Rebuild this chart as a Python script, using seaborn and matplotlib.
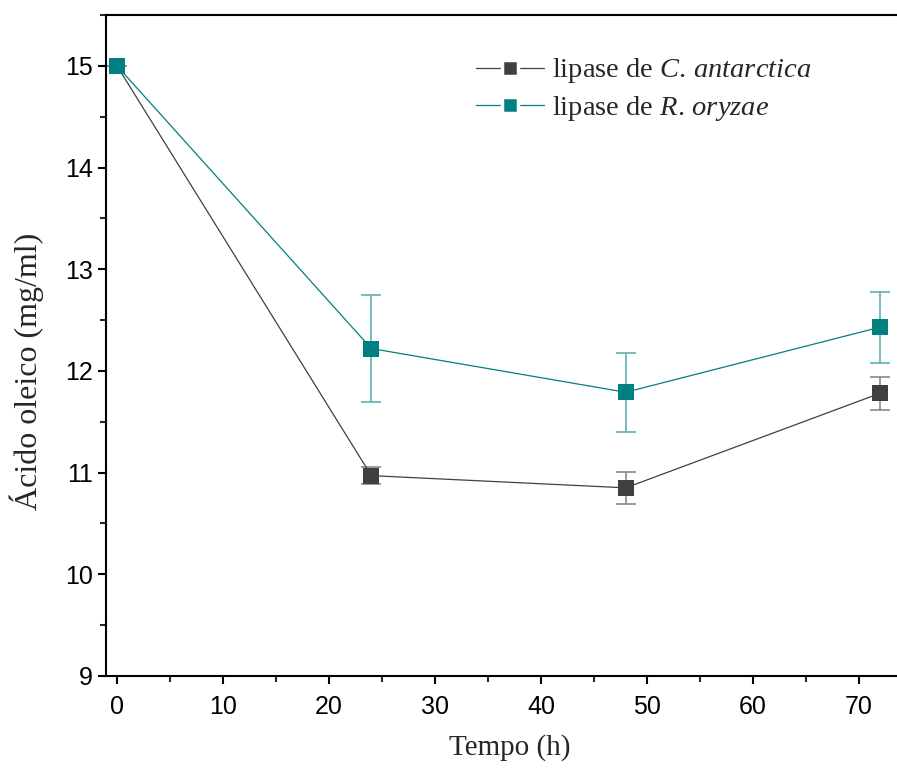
import numpy as np
import pandas as pd
import seaborn as sns
import matplotlib
from matplotlib import pyplot as plt
from matplotlib.ticker import MultipleLocator

tempo = [0, 24, 48, 72]
antarctica = [15.0, 10.97, 10.85, 11.78]
antarctica_err = [0.0, 0.08, 0.16, 0.16]
oryzae = [15.0, 12.22, 11.79, 12.43]
oryzae_err = [0.0, 0.53, 0.39, 0.35]

lab_c = r"lipase de $\mathit{C.\,antarctica}$"
lab_r = r"lipase de $\mathit{R.\,oryzae}$"

sns.set_style("ticks")
plt.rcParams['font.family'] = ['Liberation Sans', 'DejaVu Sans']
plt.rcParams['mathtext.fontset'] = 'custom'
plt.rcParams['mathtext.rm'] = 'Liberation Serif'
plt.rcParams['mathtext.it'] = 'Liberation Serif:italic'

df = pd.DataFrame({
    "Tempo": tempo * 2,
    "valor": antarctica + oryzae,
    "serie": [lab_c] * 4 + [lab_r] * 4,
})
cores = {lab_c: "#404040", lab_r: "#008080"}
cores_err = {lab_c: "#8a8a8a", lab_r: "#5fb0b0"}

fig = plt.figure(figsize=(8.97, 7.69), dpi=100)
ax = fig.add_axes([0.118, 0.121, 0.882, 0.8595])

for lab, y, e in [(lab_c, antarctica, antarctica_err), (lab_r, oryzae, oryzae_err)]:
    ax.errorbar(tempo, y, yerr=e, fmt="none", ecolor=cores_err[lab],
                elinewidth=1.2, capsize=7, capthick=1.2, zorder=2)

sns.lineplot(data=df, x="Tempo", y="valor", hue="serie", palette=cores,
             marker="s", markersize=11, markeredgewidth=0, linewidth=0.9,
             ax=ax, zorder=3)

ax.set_xlim(-1.05, 73.6)
ax.set_ylim(9, 15.5)
ax.xaxis.set_major_locator(MultipleLocator(10))
ax.xaxis.set_minor_locator(MultipleLocator(5))
ax.yaxis.set_major_locator(MultipleLocator(1))
ax.yaxis.set_minor_locator(MultipleLocator(0.5))
ax.tick_params(which="major", direction="out", length=6, width=1.5, labelsize=18, colors="black")
ax.tick_params(which="minor", direction="out", length=4, width=1.5)
ax.tick_params(axis="x", pad=8)
for s in ["left", "bottom", "top"]:
    ax.spines[s].set_linewidth(1.5)
    ax.spines[s].set_color("black")
ax.spines["right"].set_visible(False)

ax.set_xlabel("Tempo (h)", family="Liberation Serif", fontsize=21)
ax.set_ylabel("Ácido oleico (mg/ml)", family="Liberation Serif", fontsize=23)
ax.xaxis.set_label_coords(0.51, -0.088)
ax.yaxis.set_label_coords(-0.078, 0.461)

leg = ax.legend(loc="upper left", bbox_to_anchor=(0.435, 0.976), frameon=False,
                fontsize=20.5, handlelength=2.4, handletextpad=0.3, labelspacing=0.3)
for t in leg.get_texts():
    t.set_family("Liberation Serif")
for h in leg.legend_handles:
    h.set_markeredgecolor("white")
    h.set_markeredgewidth(2.5)

fig.savefig("out.png", dpi=100)
